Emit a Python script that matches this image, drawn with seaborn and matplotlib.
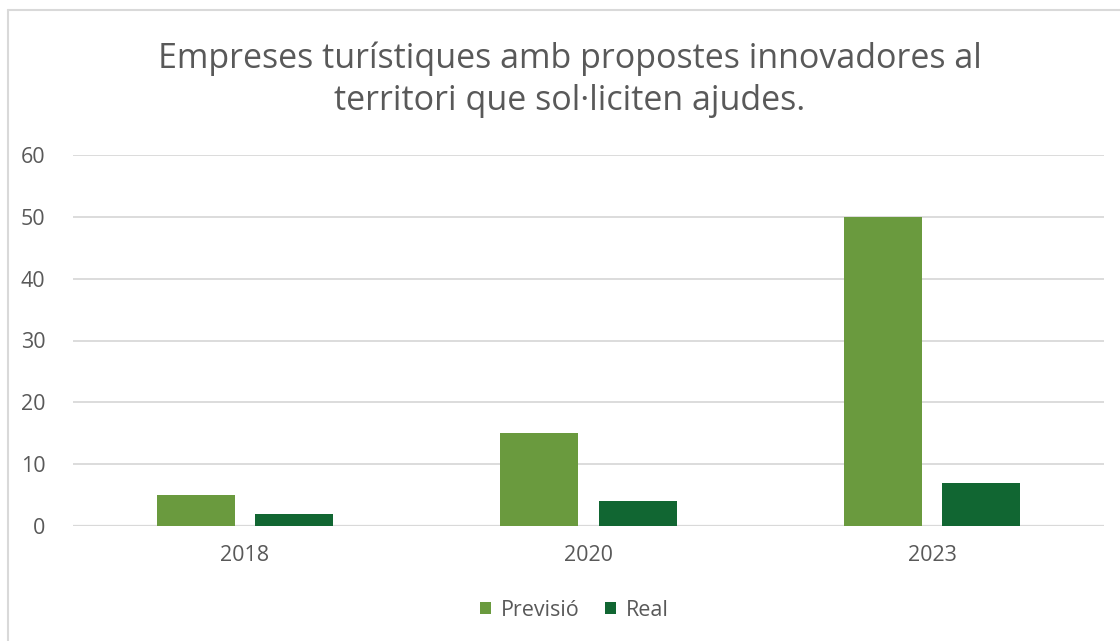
import matplotlib
matplotlib.use("Agg")
import matplotlib.pyplot as plt
import seaborn as sns
import pandas as pd
from matplotlib.lines import Line2D
from matplotlib.patches import Patch

categories = ["2018", "2020", "2023"]
previsio = [5, 15, 50]
real = [2, 4, 7]
series_names = ["Previsió", "Real"]
colors = ["#6A9A3E", "#116632"]
yticks = [0, 10, 20, 30, 40, 50, 60]
title = "Empreses turístiques amb propostes innovadores al\nterritori que sol·liciten ajudes."

df = pd.DataFrame({
    "any": categories * 2,
    "valor": previsio + real,
    "serie": [series_names[0]] * 3 + [series_names[1]] * 3,
})

sns.set_theme(style="white")
plt.rcParams["font.family"] = ["Open Sans", "DejaVu Sans"]
text_color = "#595959"
grid_color = "#D9D9D9"

fig = plt.figure(figsize=(11.2, 6.41), dpi=100)
ax = fig.add_axes([73 / 1120, 1 - 526 / 641, (1104 - 73) / 1120, (526 - 155) / 641])

sns.barplot(data=df, x="any", y="valor", hue="serie", palette=colors,
            width=0.571, ax=ax, legend=False, saturation=1)

# shrink bars to leave a gap between them
bar_w = 78 / 343.7
for p in ax.patches:
    cx = p.get_x() + p.get_width() / 2
    p.set_width(bar_w)
    p.set_x(cx - bar_w / 2)
    p.set_edgecolor("none")

ax.set_ylim(0, 60)
ax.set_xlim(-0.5, 2.5)
ax.set_yticks(yticks)
ax.set_yticklabels([str(v) for v in yticks])
ax.set_xlabel("")
ax.set_ylabel("")
ax.yaxis.grid(True, color=grid_color, linewidth=1.3)
ax.set_axisbelow(True)
for s in ax.spines.values():
    s.set_visible(False)
ax.axhline(0, color=grid_color, linewidth=1.6, zorder=0.5)
ax.tick_params(axis="both", length=0, labelsize=15.5, labelcolor=text_color)
ax.tick_params(axis="y", pad=20)
ax.tick_params(axis="x", pad=14)

fig.text(0.509, 1 - 80 / 641, title, ha="center", va="center", fontsize=24.5,
         color=text_color, linespacing=1.3)

handles = [Patch(facecolor=c, edgecolor="none") for c in colors]
fig.legend(handles, series_names, loc="center", bbox_to_anchor=(0.513, 1 - 610 / 641),
           ncol=2, frameon=False, fontsize=15.5, labelcolor=text_color,
           handlelength=0.5, handleheight=0.5, handletextpad=0.45, columnspacing=1.2)

# chart frame (left and top edges visible)
fig.add_artist(Line2D([8 / 1120, 8 / 1120], [0, 1 - 10 / 641], transform=fig.transFigure,
                      color=grid_color, linewidth=1.5))
fig.add_artist(Line2D([8 / 1120, 1], [1 - 10 / 641, 1 - 10 / 641], transform=fig.transFigure,
                      color=grid_color, linewidth=1.5))

fig.savefig("out.png", dpi=100, facecolor="white")
